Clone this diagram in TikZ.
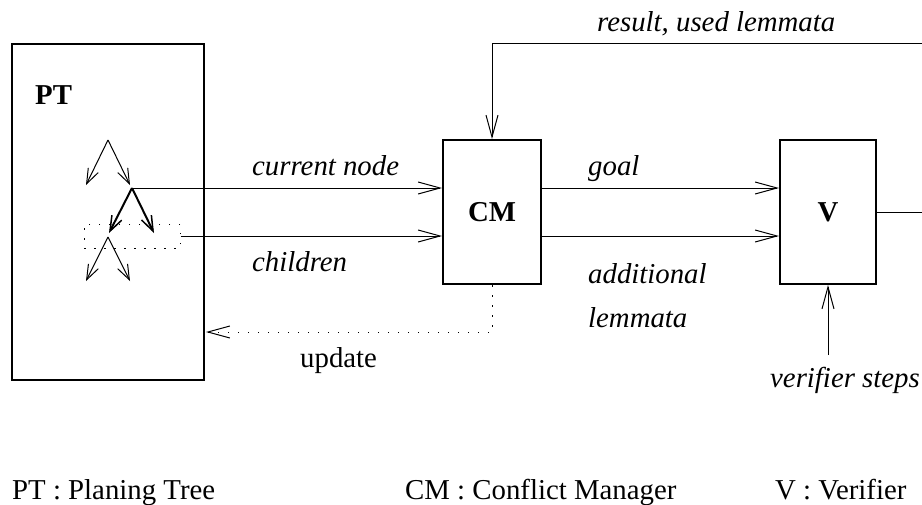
\documentclass[tikz,border=0pt]{standalone}
\usepackage{fontspec}
\setmainfont{Liberation Serif}
\usetikzlibrary{arrows.meta,calc}
\begin{document}
\begin{tikzpicture}[x=1pt,y=-1pt,
  every node/.style={font=\fontsize{28.8}{34}\selectfont},
  box/.style={draw,line width=2pt,rectangle,inner sep=0pt,font=\fontsize{28.8}{34}\selectfont\bfseries},
  conn/.style={line width=1pt,-{Straight Barb[length=22pt,width=12pt,line width=1pt]}},
  tarr/.style={line width=1pt,-{Straight Barb[length=15pt,width=11pt,line width=1pt]}},
  tarrthick/.style={line width=2pt,-{Straight Barb[length=15pt,width=11pt,line width=1.5pt]}},
  dotline/.style={line width=1pt,dash pattern=on 1.5pt off 8.5pt},
  lbl/.style={anchor=base west,inner sep=0pt},
  ilbl/.style={anchor=base west,inner sep=0pt,font=\fontsize{28.8}{34}\selectfont\itshape}]
\useasboundingbox (0,0) rectangle (922,504);
% boxes
\node[box,minimum width=192pt,minimum height=336pt] (PT) at (108,212) {};
\node[box,minimum width=98pt,minimum height=144pt] (CM) at (492,212) {CM};
\node[box,minimum width=96pt,minimum height=144pt] (V) at (828,212) {V};
\node[lbl,font=\fontsize{28.8}{34}\selectfont\bfseries] (ptl) at (35,104) {PT};
% tree
\coordinate (t1) at (108,140);
\coordinate (t1a) at (86,185);
\coordinate (t1b) at (130,185);
\coordinate (t2) at (132,188);
\coordinate (t2a) at (109,233);
\coordinate (t2b) at (154,233);
\coordinate (t3) at (108,237);
\coordinate (t3a) at (86,281);
\coordinate (t3b) at (130,281);
\draw[tarr] (t1) -- (t1a);
\draw[tarr] (t1) -- (t1b);
\draw[tarrthick] (t2) -- (t2a);
\draw[tarrthick] (t2) -- (t2b);
\draw[tarr] (t3) -- (t3a);
\draw[tarr] (t3) -- (t3b);
\node[draw,dotline,rectangle,inner sep=0pt,minimum width=96pt,minimum height=24pt] (sel) at (132,236) {};
% connectors
\draw[conn] (t2) -- (t2 -| CM.west);
\draw[conn] (sel.east) -- (sel.east -| CM.west);
\coordinate (g) at (541,188);
\coordinate (a) at (541,236);
\draw[conn] (g) -- (g -| V.west);
\draw[conn] (a) -- (a -| V.west);
\coordinate (r1) at (924,212);
\coordinate (r2) at (924,43);
\coordinate (r3) at (492,43);
\draw[conn] (V.east) -- (r1) -- (r2) -- (r3) -- (CM.north);
\coordinate (vs) at (828,355);
\draw[conn] (vs) -- (V.south);
\coordinate (u1) at (492,332);
\coordinate (u2) at (206,332);
\draw[dotline,-{Straight Barb[length=22pt,width=12pt,line width=1pt]}] (CM.south) -- (u1) -- (u2);
% labels
\node[ilbl] (lcn) at (252,175) {current node};
\node[ilbl] (lch) at (252,271) {children};
\node[lbl] (lup) at (300,367) {update};
\node[ilbl] (lgo) at (588,175) {goal};
\node[ilbl] (lad) at (588,283) {additional};
\node[ilbl] (lle) at (588,327) {lemmata};
\node[ilbl] (lre) at (597,31) {result, used lemmata};
\node[ilbl] (lvs) at (770,387) {verifier steps};
% legend
\node[lbl] (k1) at (12,499) {PT : Planing Tree};
\node[lbl] (k2) at (405,499) {CM : Conflict Manager};
\node[lbl] (k3) at (775,499) {V : Verifier};
\end{tikzpicture}
\end{document}
